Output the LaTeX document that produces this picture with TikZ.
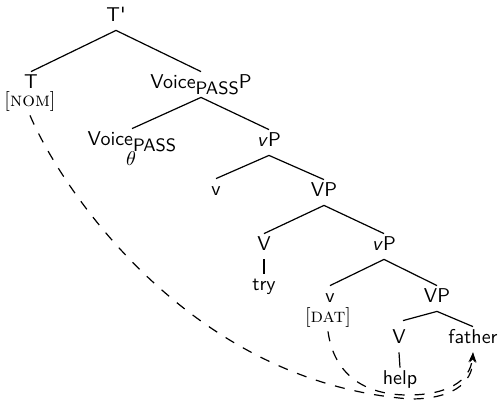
\documentclass[tikz,border=0pt]{standalone}
\usetikzlibrary{arrows.meta}
\newcommand\passsub{\raisebox{-3pt}{\small PASS}}
\begin{document}
\begin{tikzpicture}[x=0.5pt,y=-0.5pt,
  cat/.style={anchor=base, inner sep=0pt, text height=8pt, text depth=4.5pt, font=\sffamily},
  feat/.style={anchor=base, inner sep=0pt, text height=8pt, text depth=4.5pt},
  branch/.style={line width=0.6pt},
  agree/.style={line width=0.6pt, dash pattern=on 5pt off 5pt,
    -{Stealth[length=5pt,width=3.5pt]}}]
\useasboundingbox (0,0) rectangle (500,403);

% categories
\node[cat] (Tbar)   at (116,21)  {T\textquotesingle};
\node[cat] (T)      at (31,88)   {T};
\node[feat] (nom)   at (30,106)  {[\textsc{nom}]};
\node[cat] (VoiceP) at (201,88)  {Voice\passsub P};
\node[cat] (Voice)  at (132,145) {Voice\passsub};
\node[feat] (theta) at (131,165) {$\theta$};
\node[cat] (vP1)    at (269,146) {\textsl{v}P};
\node[cat] (v1)     at (216,195) {v};
\node[cat] (VP1)    at (324,196) {VP};
\node[cat] (V1)     at (264,250) {V};
\node[cat] (try)    at (264,290) {try};
\node[cat] (vP2)    at (384,250) {\textsl{v}P};
\node[cat] (v2)     at (330,302) {v};
\node[feat] (dat)   at (328,322) {[\textsc{dat}]};
\node[cat] (VP2)    at (437,302) {VP};
\node[cat] (V2)     at (399,343) {V};
\node[cat] (help)   at (400,384) {help};
\node[cat] (father) at (473,343) {father};

% branches
\draw[branch] (Tbar.south) -- (T.north);
\draw[branch] (Tbar.south) -- (VoiceP.north);
\draw[branch] (VoiceP.south) -- (Voice.north);
\draw[branch] (VoiceP.south) -- (vP1.north);
\draw[branch] (vP1.south) -- (v1.north);
\draw[branch] (vP1.south) -- (VP1.north);
\draw[branch] (VP1.south) -- (V1.north);
\draw[branch] (VP1.south) -- (vP2.north);
\draw[branch] (V1.south) -- (try.north);
\draw[branch] (vP2.south) -- (v2.north);
\draw[branch] (vP2.south) -- (VP2.north);
\draw[branch] (VP2.south) -- ([xshift=2pt,yshift=3pt]V2.north);
\draw[branch] (VP2.south) -- (father.north);
\draw[branch] (V2.south) -- (help.north);

% case assignment
\draw[agree] (nom.south) .. controls (62,190) and (190,382) .. (410,399)
  .. controls (450,399) and (473,385) .. (father.south);
\draw[agree] (dat.south) .. controls (334,375) and (365,395) .. (408,395)
  .. controls (446,395) and (470,382) .. (father.south);
\end{tikzpicture}
\end{document}
